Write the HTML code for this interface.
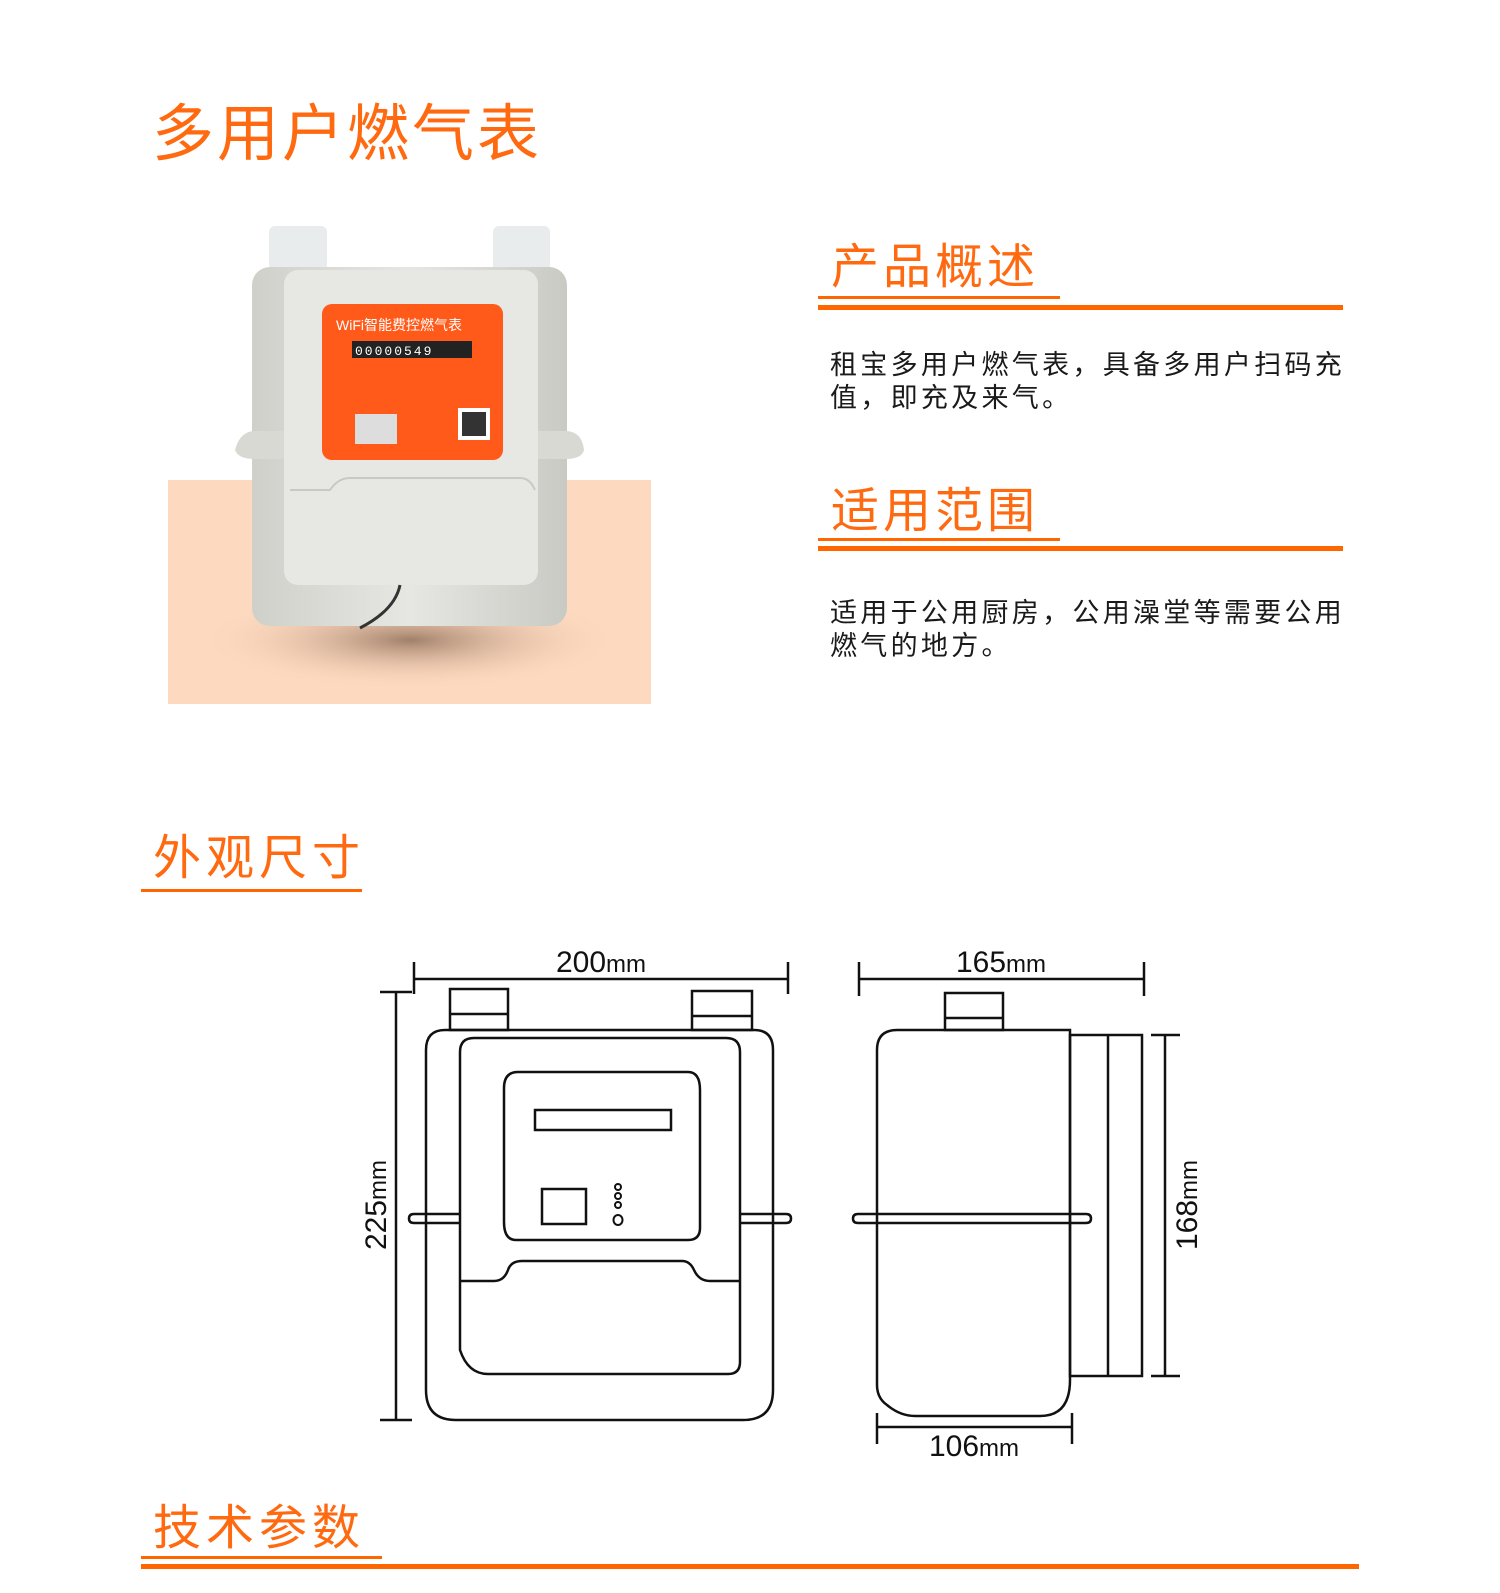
<!DOCTYPE html>
<html><head><meta charset="utf-8">
<style>
html,body{margin:0;padding:0;background:#fff;}
body{width:1500px;height:1593px;position:relative;overflow:hidden;font-family:"Liberation Sans","Noto Sans CJK SC",sans-serif;}
.t{position:absolute;color:#ff6a10;white-space:nowrap;line-height:1;}
.p{position:absolute;color:#1a1a1a;font-size:27px;letter-spacing:3.3px;line-height:33px;white-space:nowrap;}
.bar{position:absolute;background:#ff6600;}
</style></head><body>
<div class="t" style="left:152px;top:104px;font-size:62px;letter-spacing:3px;">多用户燃气表</div>

<div class="t" style="left:831px;top:244px;font-size:48px;letter-spacing:4px;">产品概述</div>
<div class="bar" style="left:818px;top:296px;width:242px;height:3px;"></div>
<div class="bar" style="left:818px;top:305px;width:525px;height:5px;"></div>
<div class="p" style="left:830px;top:349px;">租宝多用户燃气表，具备多用户扫码充<br>值，即充及来气。</div>

<div class="t" style="left:831px;top:488px;font-size:48px;letter-spacing:4px;">适用范围</div>
<div class="bar" style="left:818px;top:538px;width:242px;height:3px;"></div>
<div class="bar" style="left:818px;top:546px;width:525px;height:5px;"></div>
<div class="p" style="left:830px;top:597px;">适用于公用厨房，公用澡堂等需要公用<br>燃气的地方。</div>

<div class="t" style="left:153px;top:835px;font-size:48px;letter-spacing:5px;">外观尺寸</div>
<div class="bar" style="left:141px;top:889px;width:221px;height:3px;"></div>

<div class="t" style="left:153px;top:1505px;font-size:48px;letter-spacing:5px;">技术参数</div>
<div class="bar" style="left:141px;top:1556px;width:241px;height:3px;"></div>
<div class="bar" style="left:141px;top:1564px;width:1218px;height:5px;"></div>

<svg width="1500" height="1593" style="position:absolute;left:0;top:0" xmlns="http://www.w3.org/2000/svg">
<defs>
<radialGradient id="sh" cx="0.5" cy="0.5" r="0.5"><stop offset="0" stop-color="#8a6a55" stop-opacity="0.8"/><stop offset="1" stop-color="#fdd9bf" stop-opacity="0"/></radialGradient>
<linearGradient id="bd" x1="0" x2="1"><stop offset="0" stop-color="#cfd0ca"/><stop offset="0.5" stop-color="#e6e7e2"/><stop offset="1" stop-color="#c9cac4"/></linearGradient>
</defs>
<rect x="168" y="480" width="483" height="224" fill="#fdd9bf"/>
<ellipse cx="410" cy="640" rx="210" ry="50" fill="url(#sh)"/>
<rect x="269" y="226" width="58" height="45" rx="6" fill="#e9ecec"/>
<rect x="493" y="226" width="57" height="45" rx="6" fill="#e9ecec"/>
<rect x="252" y="267" width="315" height="359" rx="18" fill="url(#bd)"/>
<path d="M235 450 Q240 431 255 431 L565 431 Q582 431 584 450 Q582 459 565 459 L255 459 Q238 459 235 450Z" fill="#d8d9d3"/>
<rect x="284" y="270" width="254" height="315" rx="14" fill="#e7e8e3"/>
<path d="M290 490 L330 490 Q338 478 350 478 L520 478 Q530 478 535 490" stroke="#c8c9c3" stroke-width="2" fill="none"/>
<rect x="322" y="304" width="181" height="156" rx="10" fill="#ff5a1a"/>
<text x="336" y="330" font-size="14" fill="#fff" font-family="Liberation Sans,Noto Sans CJK SC,sans-serif">WiFi智能费控燃气表</text>
<rect x="352" y="341" width="120" height="17" fill="#222"/>
<text x="355" y="355" font-size="13" fill="#fff" font-family="Liberation Mono,monospace" letter-spacing="2">00000549</text>
<rect x="355" y="414" width="42" height="30" fill="#ddd"/>
<rect x="458" y="408" width="32" height="32" fill="#fff"/>
<rect x="462" y="412" width="24" height="24" fill="#333"/>
<path d="M400 585 Q395 610 360 628" stroke="#333" stroke-width="3" fill="none"/>

<g stroke="#111" stroke-width="2.5" fill="none">
<line x1="414" y1="979" x2="788" y2="979"/>
<line x1="414" y1="962" x2="414" y2="994"/>
<line x1="788" y1="962" x2="788" y2="994"/>
<line x1="396" y1="992" x2="396" y2="1420"/>
<line x1="380" y1="992" x2="412" y2="992"/>
<line x1="380" y1="1420" x2="412" y2="1420"/>
<rect x="450" y="989" width="58" height="41"/>
<line x1="450" y1="1014" x2="508" y2="1014"/>
<rect x="692" y="991" width="60" height="39"/>
<line x1="692" y1="1016" x2="752" y2="1016"/>
<path d="M445 1030 L754 1030 Q773 1030 773 1050 L773 1390 Q773 1420 743 1420 L456 1420 Q426 1420 426 1390 L426 1050 Q426 1030 445 1030Z"/>
<path d="M474 1038 L726 1038 Q740 1038 740 1052 L740 1362 Q740 1374 728 1374 L488 1374 Q468 1374 460 1350 L460 1052 Q460 1038 474 1038Z"/>
<path d="M518 1072 L688 1072 Q700 1072 700 1090 L700 1228 Q700 1240 688 1240 L516 1240 Q504 1240 504 1222 L504 1088 Q504 1072 518 1072Z"/>
<rect x="535" y="1110" width="136" height="20"/>
<rect x="542" y="1189" width="44" height="35"/>
<circle cx="618" cy="1187" r="3" stroke-width="2"/>
<circle cx="618" cy="1196" r="3" stroke-width="2"/>
<circle cx="618" cy="1205" r="3" stroke-width="2"/>
<ellipse cx="618" cy="1220" rx="4.5" ry="5" stroke-width="2"/>
<path d="M460 1281 L494 1281 Q504 1281 508 1270 Q511 1261 522 1261 L682 1261 Q690 1261 694 1270 Q699 1281 710 1281 L740 1281"/>
<path d="M459 1214 L414 1214 Q409 1214 409 1218.5 Q409 1223 414 1223 L459 1223"/>
<path d="M740 1214 L786 1214 Q791 1214 791 1218.5 Q791 1223 786 1223 L740 1223"/>
<line x1="859" y1="979" x2="1144" y2="979"/>
<line x1="859" y1="962" x2="859" y2="996"/>
<line x1="1144" y1="962" x2="1144" y2="996"/>
<rect x="945" y="993" width="58" height="37"/>
<line x1="945" y1="1018" x2="1003" y2="1018"/>
<path d="M897 1030 L1070 1030 L1070 1380 Q1070 1416 1040 1416 L915 1416 Q900 1416 887 1405 Q877 1398 877 1385 L877 1050 Q877 1030 897 1030Z"/>
<rect x="1070" y="1035" width="72" height="341"/>
<line x1="1108" y1="1035" x2="1108" y2="1376"/>
<line x1="1165" y1="1035" x2="1165" y2="1376"/>
<line x1="1151" y1="1035" x2="1180" y2="1035"/>
<line x1="1151" y1="1376" x2="1180" y2="1376"/>
<path d="M858 1214 L1086 1214 Q1091 1214 1091 1218.5 Q1091 1223 1086 1223 L858 1223 Q853 1223 853 1218.5 Q853 1214 858 1214Z"/>
<line x1="877" y1="1427" x2="1072" y2="1427"/>
<line x1="877" y1="1413" x2="877" y2="1444"/>
<line x1="1072" y1="1413" x2="1072" y2="1444"/>
</g>
<g font-family="Liberation Sans Narrow,Liberation Sans,sans-serif" font-size="30" fill="#111" text-anchor="middle">
<text x="601" y="972">200<tspan font-size="24">mm</tspan></text>
<text x="1001" y="972">165<tspan font-size="24">mm</tspan></text>
<text x="974" y="1456">106<tspan font-size="24">mm</tspan></text>
<text transform="translate(386,1205) rotate(-90)">225<tspan font-size="24">mm</tspan></text>
<text transform="translate(1197,1205) rotate(-90)">168<tspan font-size="24">mm</tspan></text>
</g>
</svg>
</body></html>
